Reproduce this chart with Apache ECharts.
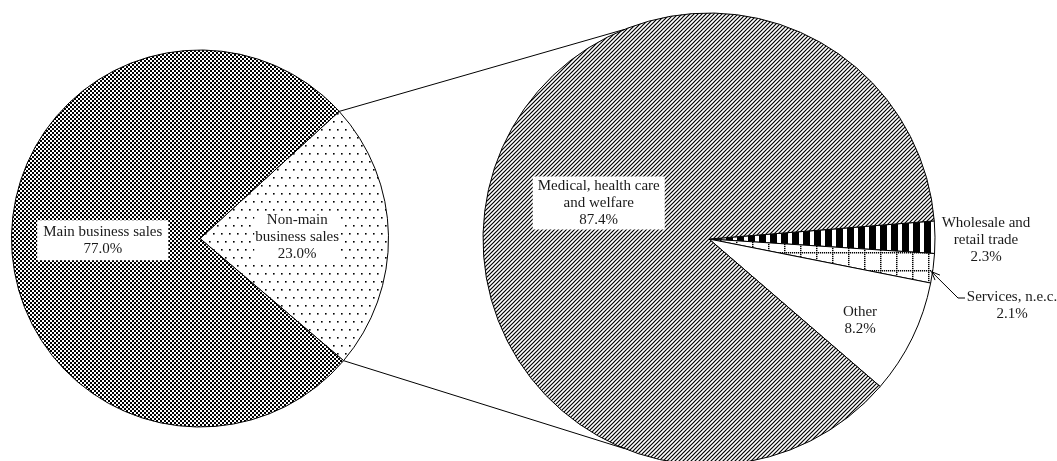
<!DOCTYPE html>
<html>
<head>
<meta charset="utf-8">
<script src="https://cdn.jsdelivr.net/npm/echarts@6/dist/echarts.min.js"></script>
<style>
  html, body { margin: 0; padding: 0; background: #fff; }
  #chart { width: 1057px; height: 461px; }
</style>
</head>
<body>
<div id="chart"></div>
<script>
// Composition of sales
const salesCategories = ['Non-main\nbusiness sales', 'Main business sales'];
const salesShares = [23.0, 77.0];

// Breakdown of non-main business sales by industry
const industryCategories = ['Wholesale and\nretail trade', 'Services, n.e.c.', 'Other', 'Medical, health care\nand welfare'];
const industryShares = [2.3, 2.1, 8.2, 87.4];

// Layout
const leftCenter = [200, 238.5], leftR = 188.5, leftStart = 42.4;
const rightCenter = [709, 239], rightR = 226, rightStart = 4.6;
const FONT = '"Liberation Serif", "Times New Roman", serif';
const TEXT = '#1a1a1a';

// Fill patterns drawn on small tiles
function tile(w, h, draw) {
  const c = document.createElement('canvas');
  c.width = w; c.height = h;
  const g = c.getContext('2d');
  g.fillStyle = '#fff'; g.fillRect(0, 0, w, h);
  g.fillStyle = '#000'; g.strokeStyle = '#000';
  draw(g);
  return c;
}
const checker = tile(4, 4, g => { g.fillRect(0, 0, 2, 2); g.fillRect(2, 2, 2, 2); });
const dots = tile(8, 16, g => { g.fillRect(1, 1, 1.6, 1.6); g.fillRect(5, 9, 1.6, 1.6); });
const hatch = tile(4, 4, g => {
  g.lineWidth = 1.2;
  g.beginPath();
  g.moveTo(-1, 5); g.lineTo(5, -1);
  g.moveTo(-3, 3); g.lineTo(3, -3);
  g.moveTo(1, 7); g.lineTo(7, 1);
  g.stroke();
});
const stripes = tile(11, 4, g => { g.fillRect(0, 0, 7, 4); });
const grid = tile(16, 18, g => {
  for (let x = 0; x < 16; x += 2) g.fillRect(x, 0, 1.2, 1.5);
  for (let y = 0; y < 18; y += 2) g.fillRect(0, y, 1.5, 1.2);
});
const pat = img => ({ image: img, repeat: 'repeat' });

const salesFills = [pat(dots), pat(checker)];
const industryFills = [pat(stripes), pat(grid), '#fff', pat(hatch)];

// Label offsets (from the right pie centre) for the small slices
const rightLabelPos = [[277, 1], [303, 67], [151, 82], null];

const labelBase = {
  show: true, position: 'inside', color: TEXT, fontFamily: FONT,
  fontSize: 15, lineHeight: 17, align: 'center',
  formatter: p => p.name + '\n' + p.value.toFixed(1) + '%'
};

function polar(c, r, deg) {
  const a = deg * Math.PI / 180;
  return [c[0] + r * Math.cos(a), c[1] - r * Math.sin(a)];
}

// Connector lines from the non-main slice to the breakdown pie
const leftEnd = leftStart - salesShares[0] * 3.6;
const connA = [polar(leftCenter, leftR, leftStart), polar(rightCenter, rightR, 112)];
const connB = [polar(leftCenter, leftR, leftEnd), polar(rightCenter, rightR, -112)];

// Leader with arrowhead pointing at the services slice
const svcAngle = rightStart - (industryShares[0] + industryShares[1] * 0.62) * 3.6;
const tip = polar(rightCenter, rightR - 1, svcAngle);
const elbow = [958, 298], leaderEnd = [965, 298];
const dir = Math.atan2(elbow[1] - tip[1], elbow[0] - tip[0]);
const wing = s => [tip[0] + 9 * Math.cos(dir + s), tip[1] + 9 * Math.sin(dir + s)];

const lineStyle = { stroke: '#000', lineWidth: 1, fill: null };

const chart = echarts.init(document.getElementById('chart'), null, { renderer: 'canvas' });
chart.setOption({
  animation: false,
  backgroundColor: '#fff',
  series: [
    {
      type: 'pie', silent: true, center: leftCenter, radius: leftR,
      startAngle: leftStart, clockwise: true, avoidLabelOverlap: false,
      itemStyle: { borderColor: '#000', borderWidth: 1 },
      label: labelBase, labelLine: { show: false },
      emphasis: { disabled: true },
      data: salesCategories.map((n, i) => ({
        name: n, value: salesShares[i],
        itemStyle: { color: salesFills[i] },
        label: i === 1
          ? { backgroundColor: '#fff', padding: [3, 6, 3, 6] }
          : { backgroundColor: '#fff', padding: [0, 1, 0, 1] }
      }))
    },
    {
      type: 'pie', silent: true, center: rightCenter, radius: rightR,
      startAngle: rightStart, clockwise: true, avoidLabelOverlap: false,
      itemStyle: { borderColor: '#000', borderWidth: 1 },
      label: labelBase, labelLine: { show: false },
      emphasis: { disabled: true },
      labelLayout: p => {
        const o = rightLabelPos[p.dataIndex];
        if (!o) return {};
        return { x: rightCenter[0] + o[0], y: rightCenter[1] + o[1], align: 'center', verticalAlign: 'middle' };
      },
      data: industryCategories.map((n, i) => ({
        name: n, value: industryShares[i],
        itemStyle: { color: industryFills[i] },
        label: i === 3 ? { backgroundColor: '#fff', padding: [1, 5, 1, 5] } : {}
      }))
    }
  ],
  graphic: [
    { type: 'polyline', silent: true, z: 10, shape: { points: connA }, style: lineStyle },
    { type: 'polyline', silent: true, z: 10, shape: { points: connB }, style: lineStyle },
    { type: 'polyline', silent: true, z: 10, shape: { points: [tip, elbow, leaderEnd] }, style: lineStyle },
    { type: 'polyline', silent: true, z: 10, shape: { points: [wing(0.4), tip, wing(-0.4)] }, style: lineStyle }
  ]
});
</script>
</body>
</html>
